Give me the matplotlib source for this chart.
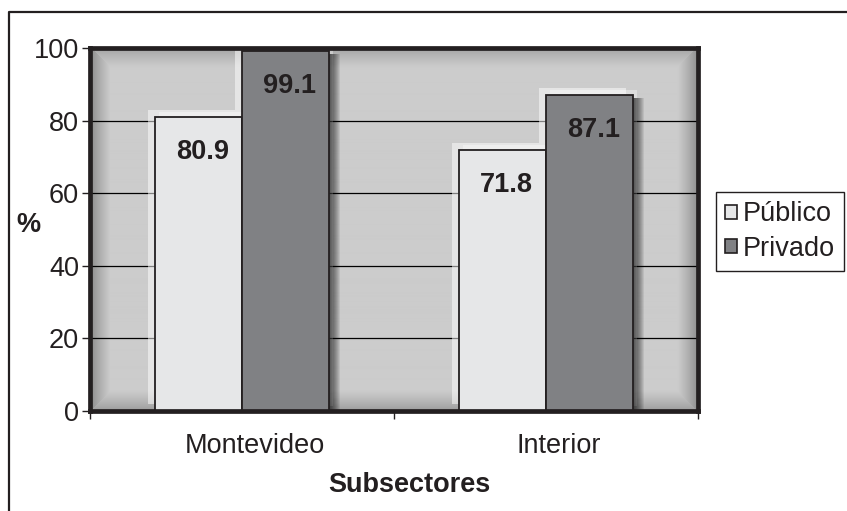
import numpy as np
import matplotlib
matplotlib.use("Agg")
import matplotlib.pyplot as plt
from matplotlib.patches import Rectangle, Patch
from matplotlib.lines import Line2D
from matplotlib.transforms import offset_copy, ScaledTranslation

# Data
categories = ["Montevideo", "Interior"]
publico = [80.9, 71.8]
privado = [99.1, 87.1]
series_names = ["Público", "Privado"]
y_ticks = [0, 20, 40, 60, 80, 100]

# Styles
COL_PUB = "#e6e7e8"
COL_PRIV = "#808184"
INK = "#231f20"
BAR_W = 0.286
FS = 19.5

plt.rcParams["font.family"] = ["Liberation Sans", "DejaVu Sans"]
plt.rcParams["text.color"] = INK
plt.rcParams["axes.labelcolor"] = INK
plt.rcParams["xtick.color"] = INK
plt.rcParams["ytick.color"] = INK

fig = plt.figure(figsize=(8.47, 5.11), dpi=100)
ax = fig.add_axes([90 / 847, 100 / 511, 608 / 847, 363 / 511])

# beveled background of the plot area (darker towards the frame)
W, H, bev = 608, 363, 20
xx, yy = np.meshgrid(np.arange(W) + 0.5, np.arange(H) + 0.5)
dist = np.stack([xx, W - xx, yy, H - yy])  # left, right, top, bottom
side = dist.argmin(axis=0)
d = dist.min(axis=0)
edge = np.array([0.52, 0.54, 0.62, 0.60])[side]
inner = 0.80
t = np.clip(d / bev, 0, 1) ** 0.8
shade = edge + (inner - edge) * t
ax.imshow(np.dstack([shade] * 3), extent=(0, 1, 0, 1), transform=ax.transAxes,
          aspect="auto", zorder=0, interpolation="bilinear")

x = np.arange(len(categories))
groups = [(x - BAR_W / 2, publico, COL_PUB), (x + BAR_W / 2, privado, COL_PRIV)]

for xs, vals, col in groups:
    for xc, v in zip(xs, vals):
        left = xc - BAR_W / 2
        # light rim on the top-left side
        glow = Rectangle((left, 0), BAR_W, v, facecolor="white", alpha=0.5,
                         edgecolor="none", zorder=1.5,
                         transform=offset_copy(ax.transData, fig=fig, x=-7, y=7, units="dots"))
        ax.add_patch(glow)
        glow2 = Rectangle((left, 0), BAR_W, v, facecolor="white", alpha=0.35,
                          edgecolor="none", zorder=1.5,
                          transform=offset_copy(ax.transData, fig=fig, x=4, y=5, units="dots"))
        ax.add_patch(glow2)
        # soft dark shadow on the right side
        for k in range(1, 12):
            sh = Rectangle((left, 0), BAR_W, v, facecolor="black", alpha=0.08,
                           edgecolor="none", zorder=1.7,
                           transform=offset_copy(ax.transData, fig=fig, x=k, y=-3, units="dots"))
            ax.add_patch(sh)

b1 = ax.bar(x - BAR_W / 2, publico, BAR_W, color=COL_PUB, edgecolor=INK, linewidth=1.3, zorder=2)
b2 = ax.bar(x + BAR_W / 2, privado, BAR_W, color=COL_PRIV, edgecolor=INK, linewidth=1.3, zorder=2)

for bars, vals in ((b1, publico), (b2, privado)):
    for rect, v in zip(bars, vals):
        ax.annotate(f"{v:.1f}", (rect.get_x() + rect.get_width() / 2, v),
                    xytext=(3, -25), textcoords="offset points",
                    ha="center", va="center", fontsize=FS, fontweight="bold", zorder=3)

ax.set_xlim(-0.5, 1.5)
ax.set_ylim(0, 100)
ax.set_yticks(y_ticks)
ax.grid(axis="y", color="black", linewidth=0.9)
ax.set_axisbelow(True)
for gl in ax.get_ygridlines():
    gl.set_zorder(0.5)

ax.set_xticks(x)
ax.set_xticklabels(categories)
ax.set_xticks([-0.5, 0.5, 1.5], minor=True)
ax.tick_params(axis="x", which="major", length=0, pad=16, labelsize=FS)
ax.tick_params(axis="x", which="minor", length=6, width=1, direction="out")
ax.tick_params(axis="y", length=6, width=1, direction="out", pad=2, labelsize=FS)
for lab in ax.get_xticklabels():
    lab.set_transform(lab.get_transform() + ScaledTranslation(0.13, 0, fig.dpi_scale_trans))

for sp in ax.spines.values():
    sp.set_linewidth(3.4)
    sp.set_color(INK)
    sp.set_zorder(4)

fig.text(28 / 847, 1 - 225 / 511, "%", ha="center", va="center",
         fontsize=FS, fontweight="bold")
fig.text(409 / 847, 1 - 485 / 511, "Subsectores", ha="center", va="center",
         fontsize=FS, fontweight="bold")

handles = [Patch(facecolor=COL_PUB, edgecolor=INK, linewidth=1.2),
           Patch(facecolor=COL_PRIV, edgecolor=INK, linewidth=1.2)]
leg = fig.legend(handles, series_names, loc="upper left",
                 bbox_to_anchor=(716 / 847, 1 - 192 / 511), fontsize=FS,
                 frameon=True, fancybox=False, edgecolor=INK, framealpha=1,
                 handlelength=0.42, handleheight=0.42, handletextpad=0.2,
                 labelspacing=0.3, borderpad=0.35, borderaxespad=0)
leg.get_frame().set_linewidth(1.0)

# outer border of the chart area (top and left edges)
bx, by = 8.5 / 847, 1 - 12 / 511
fig.add_artist(Line2D([bx, bx, 1.01], [-0.01, by, by], transform=fig.transFigure,
                      color=INK, linewidth=1.6))

fig.savefig("out.png", dpi=100)
